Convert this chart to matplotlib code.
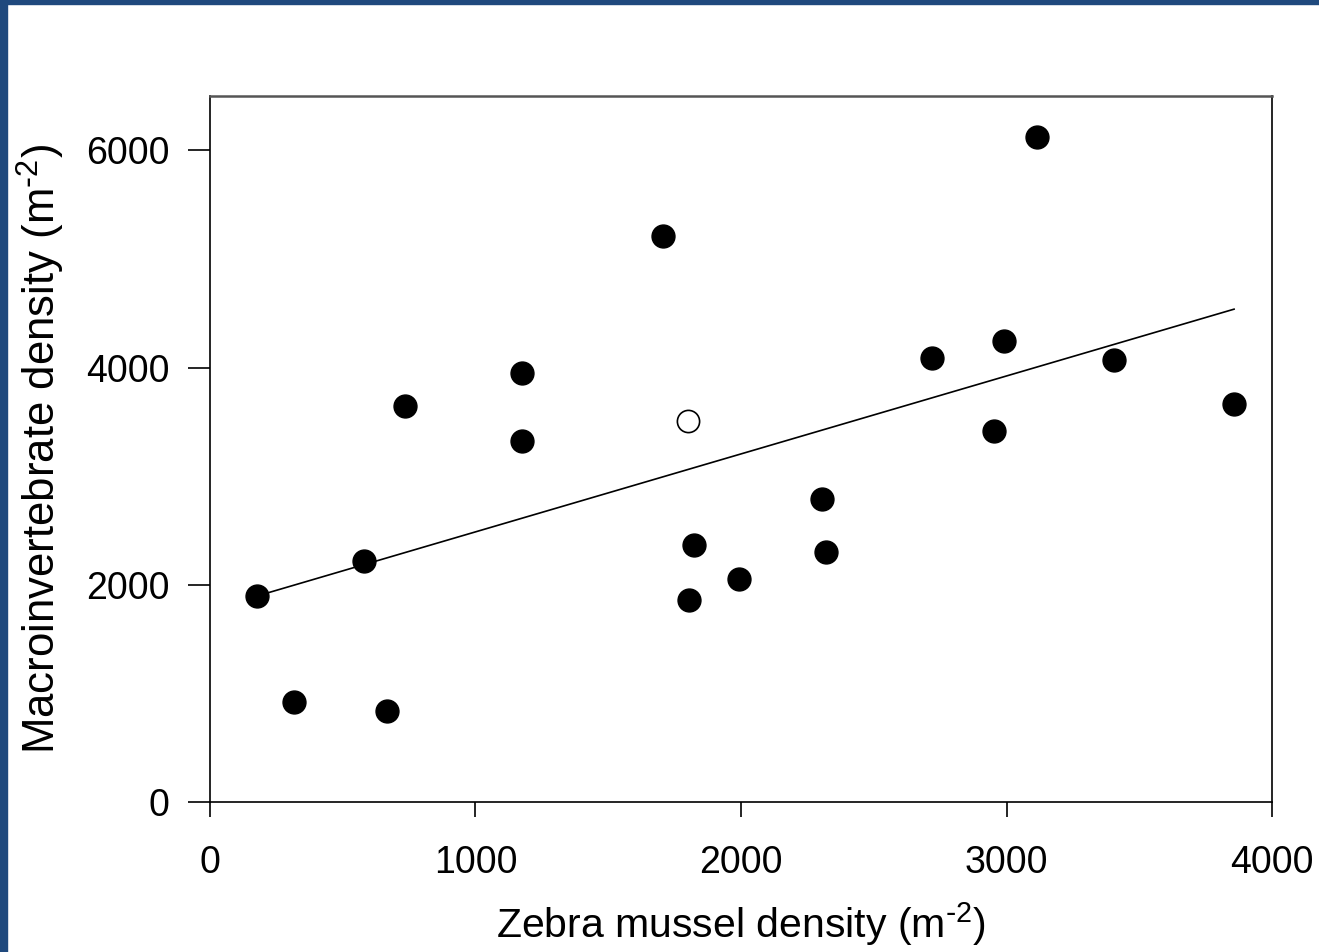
import numpy as np
import matplotlib
matplotlib.use('Agg')
from matplotlib import pyplot as plt
from matplotlib.patches import Rectangle

plt.rcParams['font.family'] = ['Liberation Sans', 'DejaVu Sans']
plt.rcParams['mathtext.default'] = 'regular'

# Filled points: zebra mussel density vs macroinvertebrate density
zebra = [177, 316, 580, 667, 734, 1175, 1175, 1706, 1823, 1804, 1992,
         2305, 2320, 2719, 2953, 2991, 3115, 3405, 3857]
macro = [1896, 920, 2218, 837, 3644, 3948, 3322, 5208, 2365, 1859, 2052,
         2788, 2300, 4086, 3414, 4242, 6119, 4067, 3662]

# Open point (excluded from regression)
zebra_open = [1800]
macro_open = [3506]

# Regression line
slope = 0.7177
intercept = 1769
line_x = [177, 3857]

fig = plt.figure(figsize=(13.19, 9.52), dpi=100)
ax = fig.add_axes([0.1592, 0.1576, 0.8052, 0.7416])

# Blue border on the top and left
fig.patches.append(Rectangle((0, 0), 7 / 1319, 1, transform=fig.transFigure,
                             color='#1F497D', zorder=0))
fig.patches.append(Rectangle((0, 1 - 4 / 952), 1, 4 / 952, transform=fig.transFigure,
                             color='#1F497D', zorder=0))

lx = np.array(line_x, dtype=float)
ax.plot(lx, intercept + slope * lx, color='black', lw=1.2, zorder=2)
ax.plot(zebra, macro, 'o', color='black', markersize=16.5, zorder=3)
ax.plot(zebra_open, macro_open, 'o', markerfacecolor='white', markeredgecolor='black',
        markeredgewidth=1.2, markersize=16, zorder=3)

ax.set_xlim(0, 4000)
ax.set_ylim(0, 6500)
ax.set_xticks([0, 1000, 2000, 3000, 4000])
ax.set_yticks([0, 2000, 4000, 6000])

ax.tick_params(axis='x', direction='out', length=11, width=1.2, pad=20, labelsize=27)
ax.tick_params(axis='y', direction='out', length=16, width=1.2, pad=13, labelsize=27)

ax.spines['top'].set_color('#555555')
ax.spines['top'].set_linewidth(1.8)
for s in ['left', 'bottom', 'right']:
    ax.spines[s].set_linewidth(1.2)

lab_font = ['Liberation Sans Narrow', 'Liberation Sans']
ax.set_xlabel(r'Zebra mussel density (m$^{\text{-}2}$)', fontsize=29.5,
              family=lab_font, labelpad=14)
ax.set_ylabel(r'Macroinvertebrate density (m$^{\text{-}2}$)', fontsize=31.5,
              family=lab_font, labelpad=13.5)

plt.savefig('out.png', dpi=100)
